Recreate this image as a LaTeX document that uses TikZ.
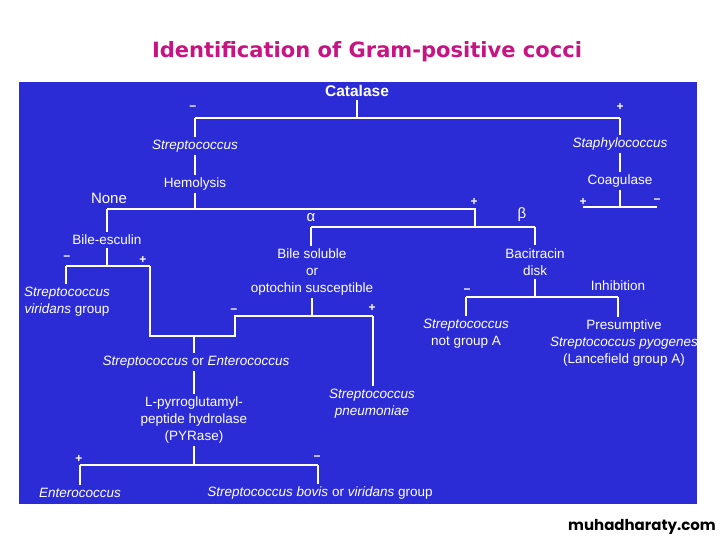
\documentclass[tikz,border=0pt]{standalone}
\usepackage{fontspec}
\usepackage{graphicx}
\setmainfont{Liberation Sans}
\newfontfamily\titlefont{DejaVu Sans}
\newfontfamily\wmfont{Poppins}
\definecolor{bgblue}{RGB}{44,44,214}
\definecolor{titlemag}{RGB}{200,20,130}
\begin{document}
\begin{tikzpicture}[x=1pt,y=-1pt,
  lbl/.style={text=white,inner sep=3pt,font=\fontsize{13.5}{17}\selectfont,align=center},
  sgn/.style={text=white,inner sep=0pt,font=\bfseries\fontsize{12}{12}\selectfont},
  wire/.style={draw=white,line width=2pt}]
\useasboundingbox (0,0) rectangle (720,540);
\fill[white] (0,0) rectangle (720,540);
\fill[bgblue] (19,82) rectangle (697,504);
\node[text=titlemag,inner sep=0pt] (title) at (367,52) {\resizebox{430pt}{!}{\titlefont\bfseries\fontsize{20}{20}\selectfont Identification of Gram-positive cocci}};
\node[font=\wmfont\bfseries\fontsize{15}{15}\selectfont,text=black] (wm) at (642,527) {muhadharaty.com};

% nodes
\node[lbl,font=\bfseries\fontsize{15.5}{17}\selectfont] (cat) at (357,91) {Catalase};
\node[lbl] (strep) at (195,146) {\itshape Streptococcus};
\node[lbl] (hemo) at (195,184) {Hemolysis};
\node[lbl] (staph) at (620,144) {\itshape Staphylococcus};
\node[lbl] (coag) at (620,181) {Coagulase};
\node[lbl,font=\fontsize{15}{17}\selectfont] (none) at (109,198) {None};
\node[lbl] (besc) at (107,240) {Bile-esculin};
\node[lbl,font=\fontsize{15}{17}\selectfont] (alpha) at (311,218) {α};
\node[lbl,font=\fontsize{15}{17}\selectfont] (beta) at (522,215) {β};
\node[lbl] (bsol) at (312,272) {Bile soluble\\or\\optochin susceptible};
\node[lbl] (baci) at (535,262) {Bacitracin\\disk};
\node[lbl] (svir) at (67,302) {\itshape Streptococcus\\\itshape viridans \upshape group};
\node[lbl] (soe) at (196,362) {\itshape Streptococcus \upshape or \itshape Enterococcus};
\node[lbl] (spn) at (372,404) {\itshape Streptococcus\\\itshape pneumoniae};
\node[lbl] (pyr) at (194,420) {L-pyrroglutamyl-\\peptide hydrolase\\(PYRase)};
\node[lbl] (ent) at (80,493) {\itshape Enterococcus};
\node[lbl] (sbov) at (320,493) {\itshape Streptococcus bovis \upshape or \itshape viridans \upshape group};
\node[lbl] (sng) at (466,334) {\itshape Streptococcus\\not group A};
\node[lbl] (spy) at (624,343) {Presumptive\\\itshape Streptococcus pyogenes\\(Lancefield group A)};
\node[lbl] (inh) at (618,286) {Inhibition};

% signs
\node[sgn] (s1) at (193,108) {\textminus};
\node[sgn] (s2) at (620,107) {+};
\node[sgn] (s3) at (583,202) {+};
\node[sgn] (s4) at (657,201) {\textminus};
\node[sgn] (s5) at (474,202) {+};
\node[sgn] (s6) at (67,258) {\textminus};
\node[sgn] (s7) at (143,260) {+};
\node[sgn] (s8) at (234,311) {\textminus};
\node[sgn] (s9) at (372,308) {+};
\node[sgn] (s10) at (467,291) {\textminus};
\node[sgn] (s11) at (79,459) {+};
\node[sgn] (s12) at (317,458) {\textminus};

% junctions
\coordinate (jc) at (357,118);
\coordinate (jcl) at (195,118);
\coordinate (jcr) at (620,118);
\coordinate (jh) at (195,209);
\coordinate (jhl) at (107,209);
\coordinate (jhr) at (475,209);
\coordinate (jab) at (475,227);
\coordinate (ja) at (311,227);
\coordinate (jb) at (535,227);
\coordinate (jg) at (620,207);
\coordinate (jgl) at (583,207);
\coordinate (jgr) at (657,207);
\coordinate (je) at (107,266);
\coordinate (jel) at (66,266);
\coordinate (jer) at (150,266);
\coordinate (jer2) at (150,336);
\coordinate (jm) at (194,336);
\coordinate (jm2) at (235,336);
\coordinate (jm3) at (235,316);
\coordinate (js) at (312,316);
\coordinate (jsr) at (373,316);
\coordinate (jp) at (194,465);
\coordinate (jpl) at (80,465);
\coordinate (jpr) at (318,465);
\coordinate (jd) at (535,297);
\coordinate (jdl) at (466,297);
\coordinate (jdr) at (618,297);

% connectors
\draw[wire] (cat.south) -- (jc);
\draw[wire] (jcl) -- (jcr);
\draw[wire] (jcl) -- (jcl |- strep.north);
\draw[wire] (jcr) -- (jcr |- staph.north);
\draw[wire] (strep.south) -- (hemo.north);
\draw[wire] (hemo.south) -- (jh);
\draw[wire] (jhl) -- (jhr) -- (jab);
\draw[wire] (jhl) -- (jhl |- besc.north);
\draw[wire] (ja) -- (jb);
\draw[wire] (ja) -- (ja |- bsol.north);
\draw[wire] (jb) -- (jb |- baci.north);
\draw[wire] (staph.south) -- (coag.north);
\draw[wire] (coag.south) -- (jg);
\draw[wire] (jgl) -- (jgr);
\draw[wire] (besc.south) -- (je);
\draw[wire] (jel) -- (jer);
\draw[wire] (jel) -- (jel |- svir.north);
\draw[wire] (jer) -- (jer2) -- (jm2) -- (jm3) -- (jsr);
\draw[wire] (bsol.south) -- (js);
\draw[wire] (jsr) -- (jsr |- spn.north);
\draw[wire] (jm) -- (jm |- soe.north);
\draw[wire] (jm |- soe.south) -- (jm |- pyr.north);
\draw[wire] (pyr.south) -- (jp);
\draw[wire] (jpl) -- (jpr);
\draw[wire] (jpl) -- (jpl |- ent.north);
\draw[wire] (jpr) -- (jpr |- sbov.north);
\draw[wire] (baci.south) -- (jd);
\draw[wire] (jdl) -- (jdr);
\draw[wire] (jdl) -- (jdl |- sng.north);
\draw[wire] (jdr) -- (jdr |- spy.north);
\end{tikzpicture}
\end{document}
